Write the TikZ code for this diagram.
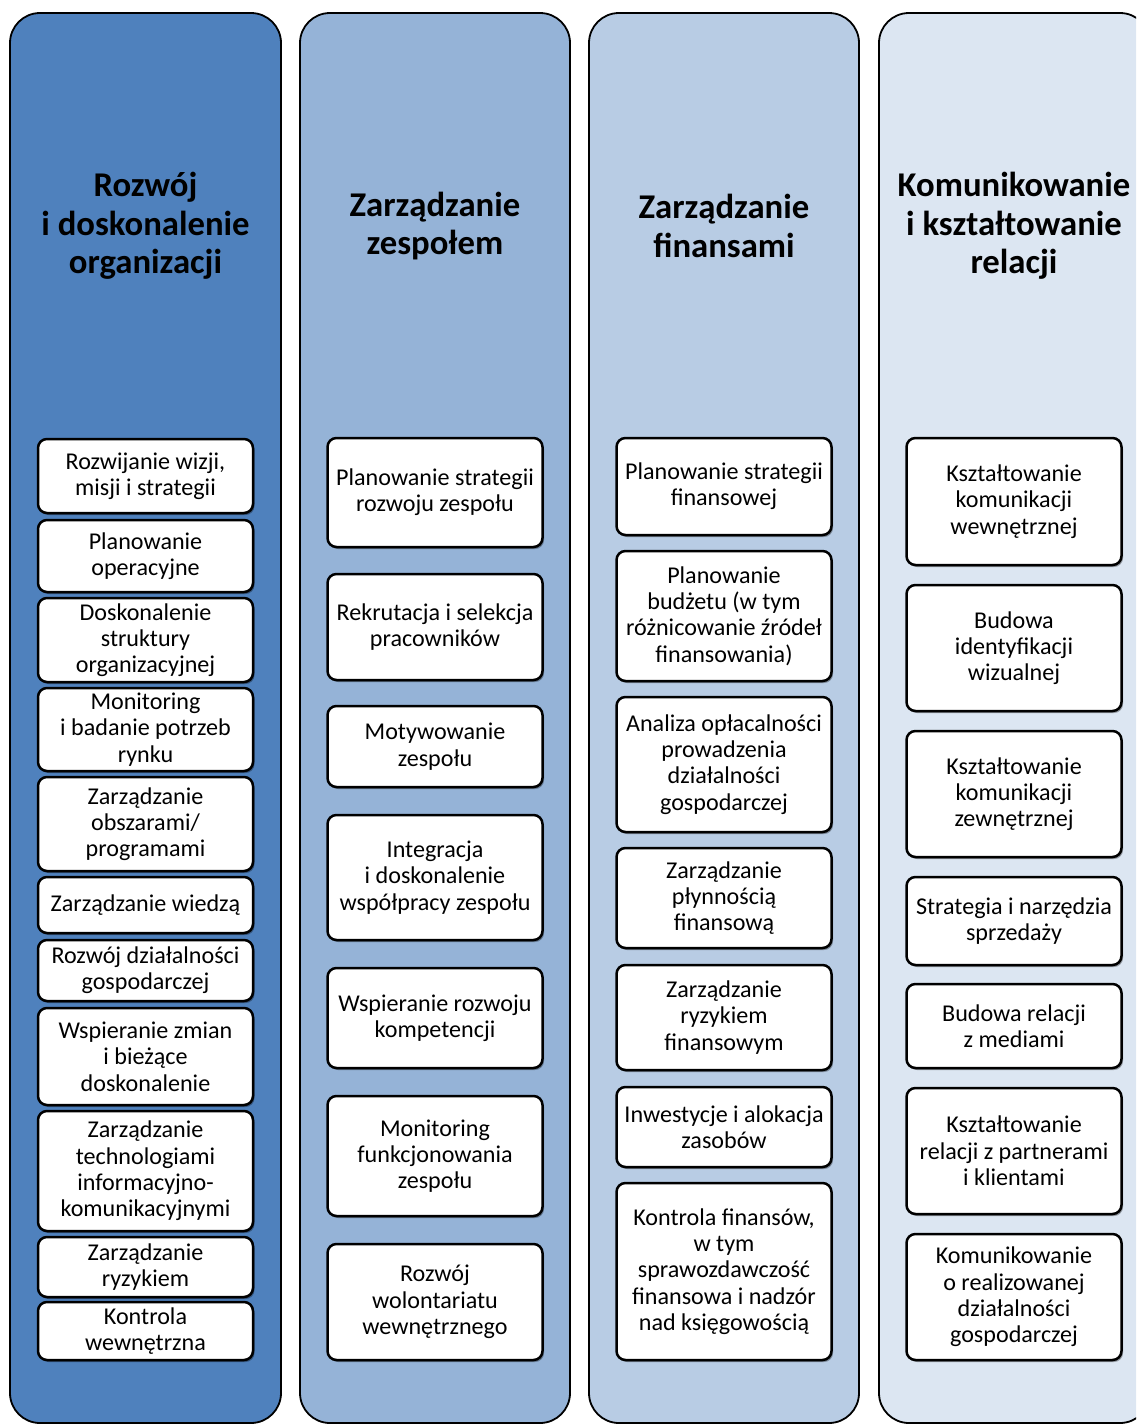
\documentclass[tikz,border=0pt]{standalone}
\usepackage{fontspec}
\setmainfont{Carlito}
\usetikzlibrary{shadows}
\definecolor{colA}{RGB}{79,129,189}
\definecolor{colB}{RGB}{149,179,215}
\definecolor{colC}{RGB}{184,204,228}
\definecolor{colD}{RGB}{220,230,242}
\tikzset{
  column/.style={draw=black, line width=1.8pt, rounded corners=30pt},
  title/.style={align=center, font=\fontsize{34.7}{38.5}\selectfont\bfseries, text=black},
  bx/.style={draw=black, fill=white, line width=2.5pt, rounded corners=9pt,
    minimum width=215pt, inner sep=1pt, align=center,
    font=\fontsize{24.1}{26.3}\selectfont,
    drop shadow={shadow xshift=1.5pt, shadow yshift=-2pt, opacity=0.35, fill=black}}
}
\begin{document}
\begin{tikzpicture}[x=1pt,y=-1pt]
\clip (0,0) rectangle (1136,1425);
\fill[white] (0,0) rectangle (1136,1425);
% columns
\draw[column, fill=colA] (10,13) rectangle (281,1423);
\draw[column, fill=colB] (300,13) rectangle (570,1423);
\draw[column, fill=colC] (589,13) rectangle (859,1423);
\draw[column, fill=colD] (879,13) rectangle (1150,1423);
% titles
\node[title] (t1) at (145.5,226) {Rozwój\\i doskonalenie\\organizacji};
\node[title] (t2) at (435,226) {Zarządzanie\\zespołem};
\node[title] (t3) at (724,226) {Zarządzanie\\finansami};
\node[title] (t4) at (1014,226) {Komunikowanie\\i kształtowanie\\relacji};
% column 1
\node[bx, minimum height=74pt] (a1) at (145.5,476) {Rozwijanie wizji,\\misji i strategii};
\node[bx, minimum height=72pt] (a2) at (145.5,556) {Planowanie\\operacyjne};
\node[bx, minimum height=84pt] (a3) at (145.5,640) {Doskonalenie\\struktury\\organizacyjnej};
\node[bx, minimum height=83pt] (a4) at (145.5,729.5) {Monitoring\\i badanie potrzeb\\rynku};
\node[bx, minimum height=94pt] (a5) at (145.5,824) {Zarządzanie\\obszarami/\\programami};
\node[bx, minimum height=56pt] (a6) at (145.5,905) {Zarządzanie wiedzą};
\node[bx, minimum height=61pt] (a7) at (145.5,970.5) {Rozwój działalności\\gospodarczej};
\node[bx, minimum height=97pt] (a8) at (145.5,1056.5) {Wspieranie zmian\\i bieżące\\doskonalenie};
\node[bx, minimum height=120pt] (a9) at (145.5,1171) {Zarządzanie\\technologiami\\informacyjno-\\komunikacyjnymi};
\node[bx, minimum height=60pt] (a10) at (145.5,1267) {Zarządzanie\\ryzykiem};
\node[bx, minimum height=58pt] (a11) at (145.5,1331) {Kontrola\\wewnętrzna};
% column 2
\node[bx, minimum height=109pt] (b1) at (435,492.5) {Planowanie strategii\\rozwoju zespołu};
\node[bx, minimum height=106pt] (b2) at (435,627) {Rekrutacja i selekcja\\pracowników};
\node[bx, minimum height=81pt] (b3) at (435,746.5) {Motywowanie\\zespołu};
\node[bx, minimum height=125pt] (b4) at (435,877.5) {Integracja\\i doskonalenie\\współpracy zespołu};
\node[bx, minimum height=100pt] (b5) at (435,1018) {Wspieranie rozwoju\\kompetencji};
\node[bx, minimum height=120pt] (b6) at (435,1156) {Monitoring\\funkcjonowania\\zespołu};
\node[bx, minimum height=116pt] (b7) at (435,1302) {Rozwój\\wolontariatu\\wewnętrznego};
% column 3
\node[bx, minimum height=97pt] (c1) at (724,486.5) {Planowanie strategii\\finansowej};
\node[bx, minimum height=130pt] (c2) at (724,616) {Planowanie\\budżetu (w tym\\różnicowanie źródeł\\finansowania)};
\node[bx, minimum height=135pt] (c3) at (724,764.5) {Analiza opłacalności\\prowadzenia\\działalności\\gospodarczej};
\node[bx, minimum height=100pt] (c4) at (724,898) {Zarządzanie\\płynnością\\finansową};
\node[bx, minimum height=105pt] (c5) at (724,1017.5) {Zarządzanie\\ryzykiem\\finansowym};
\node[bx, minimum height=80pt] (c6) at (724,1127) {Inwestycje i alokacja\\zasobów};
\node[bx, minimum height=177pt] (c7) at (724,1271.5) {Kontrola finansów,\\w tym\\sprawozdawczość\\finansowa i nadzór\\nad księgowością};
% column 4
\node[bx, minimum height=127pt] (d1) at (1014,501.5) {Kształtowanie\\komunikacji\\wewnętrznej};
\node[bx, minimum height=126pt] (d2) at (1014,648) {Budowa\\identyfikacji\\wizualnej};
\node[bx, minimum height=126pt] (d3) at (1014,794) {Kształtowanie\\komunikacji\\zewnętrznej};
\node[bx, minimum height=88pt] (d4) at (1014,921) {Strategia i narzędzia\\sprzedaży};
\node[bx, minimum height=84pt] (d5) at (1014,1026) {Budowa relacji\\z mediami};
\node[bx, minimum height=126pt] (d6) at (1014,1151) {Kształtowanie\\relacji z partnerami\\i klientami};
\node[bx, minimum height=126pt] (d7) at (1014,1297) {Komunikowanie\\o realizowanej\\działalności\\gospodarczej};
\end{tikzpicture}
\end{document}
